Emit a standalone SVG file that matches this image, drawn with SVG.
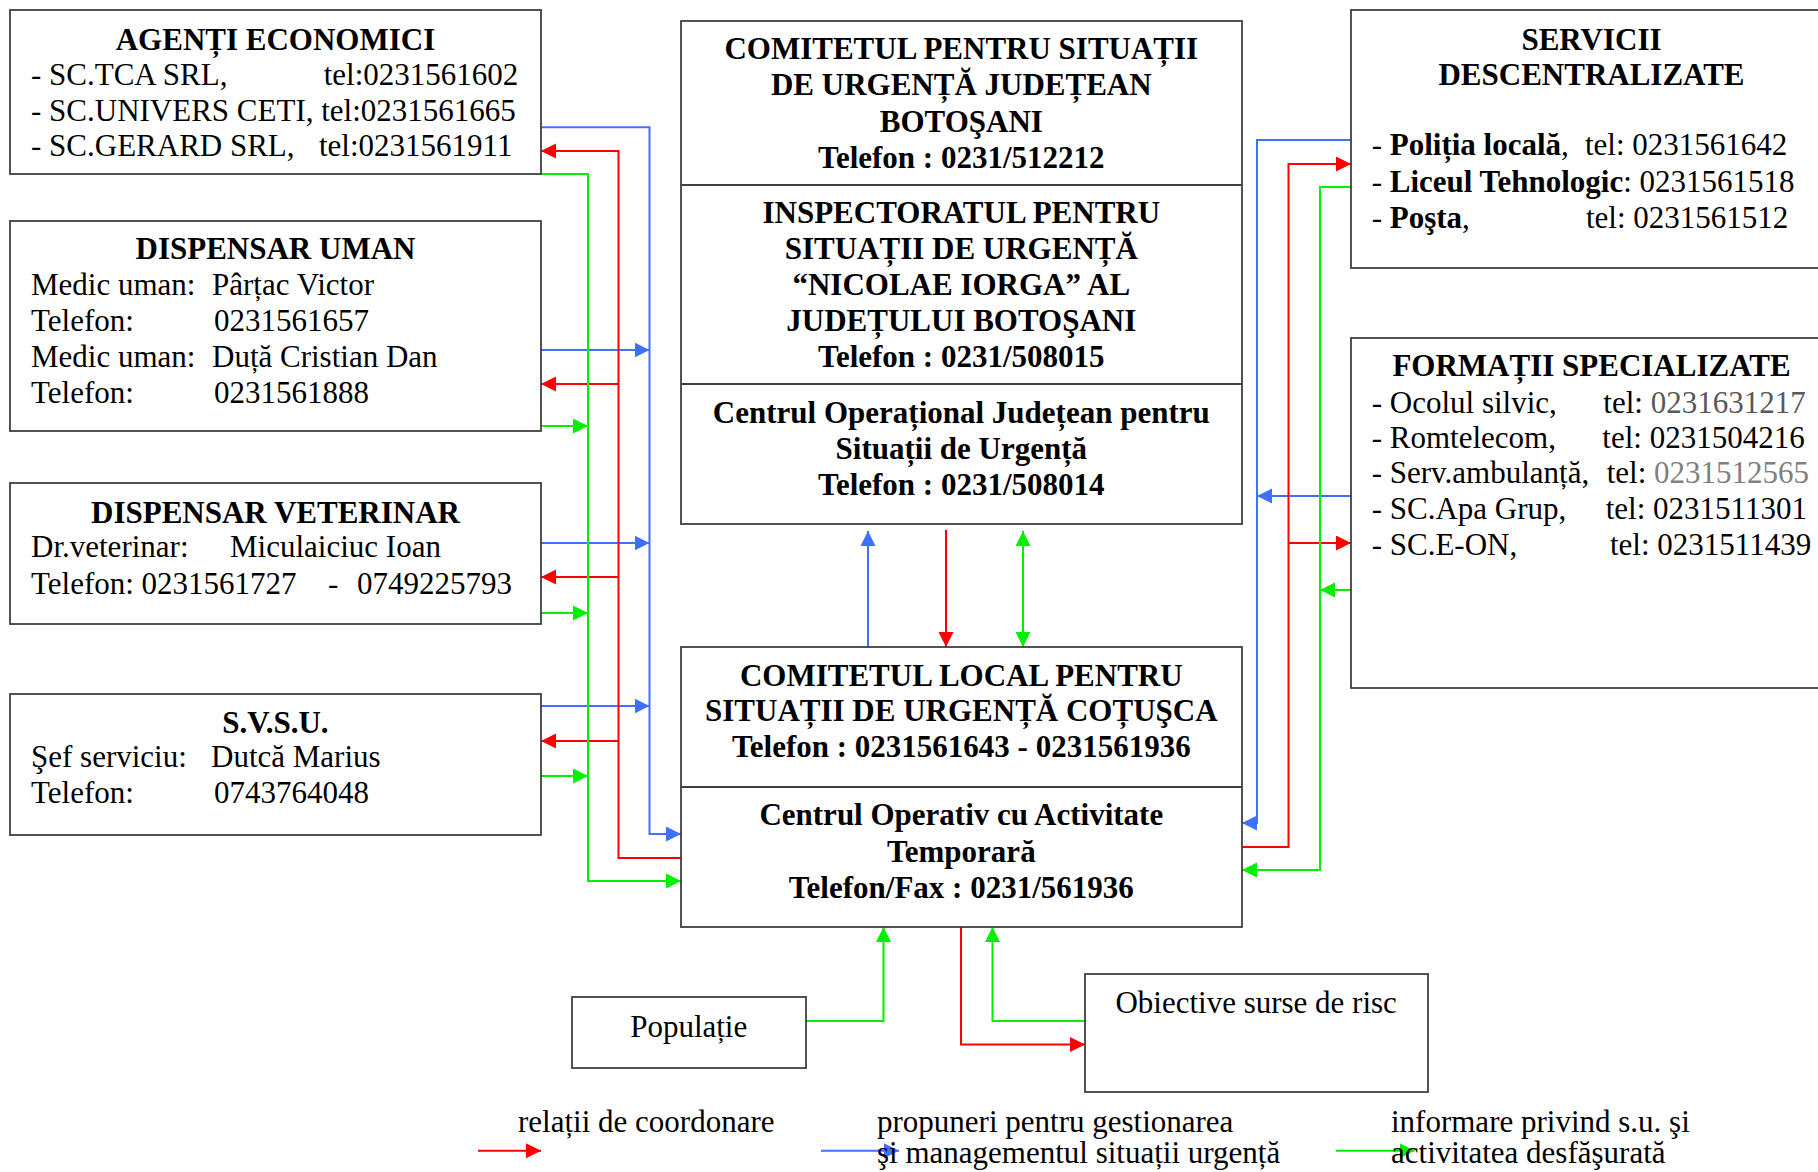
<svg xmlns="http://www.w3.org/2000/svg" width="1818" height="1172" viewBox="0 0 1818 1172">
<style>
text{font-family:"Liberation Serif","Times New Roman",serif;font-size:31px;fill:#000}
.b{font-weight:bold}
.m{text-anchor:middle}
.box{fill:#fff;stroke:#404040;stroke-width:1.8}
.div{stroke:#404040;stroke-width:1.8}
.cb{fill:none;stroke:#4070ff;stroke-width:2}
.cr{fill:none;stroke:#ff0000;stroke-width:2}
.cg{fill:none;stroke:#00f000;stroke-width:2}
.g1{fill:#595959}
.g2{fill:#808080}
</style>
<defs>
<marker id="ab" markerUnits="userSpaceOnUse" markerWidth="16" markerHeight="16" refX="15" refY="7.5" orient="auto-start-reverse"><path d="M0,0 L15,7.5 L0,15 z" fill="#4070ff"/></marker>
<marker id="ar" markerUnits="userSpaceOnUse" markerWidth="16" markerHeight="16" refX="15" refY="7.5" orient="auto-start-reverse"><path d="M0,0 L15,7.5 L0,15 z" fill="#ff0000"/></marker>
<marker id="ag" markerUnits="userSpaceOnUse" markerWidth="16" markerHeight="16" refX="15" refY="7.5" orient="auto-start-reverse"><path d="M0,0 L15,7.5 L0,15 z" fill="#00f000"/></marker>
</defs>
<rect width="1818" height="1172" fill="#fff"/>

<g id="connectors">
<!-- left side -->
<path class="cb" d="M541,127.3 H649.5 V834 H681" marker-end="url(#ab)"/>
<path class="cb" d="M541,350 H649.5" marker-end="url(#ab)"/>
<path class="cb" d="M541,543 H649.5" marker-end="url(#ab)"/>
<path class="cb" d="M541,706 H649.5" marker-end="url(#ab)"/>
<path class="cr" d="M681,858 H618.5 V151 H541" marker-end="url(#ar)"/>
<path class="cr" d="M618.5,384 H541" marker-end="url(#ar)"/>
<path class="cr" d="M618.5,577 H541" marker-end="url(#ar)"/>
<path class="cr" d="M618.5,741 H541" marker-end="url(#ar)"/>
<path class="cg" d="M541,174 H588 V881 H681" marker-end="url(#ag)"/>
<path class="cg" d="M541,426 H588" marker-end="url(#ag)"/>
<path class="cg" d="M541,613 H588" marker-end="url(#ag)"/>
<path class="cg" d="M541,776 H588" marker-end="url(#ag)"/>
<!-- right side -->
<path class="cb" d="M1351,140 H1257 V823 H1242" marker-end="url(#ab)"/>
<path class="cb" d="M1351,496 H1257" marker-end="url(#ab)"/>
<path class="cr" d="M1242,847 H1288.5 V164 H1351" marker-end="url(#ar)"/>
<path class="cr" d="M1288.5,543 H1351" marker-end="url(#ar)"/>
<path class="cg" d="M1351,187 H1320 V870 H1242" marker-end="url(#ag)"/>
<path class="cg" d="M1351,590 H1320" marker-end="url(#ag)"/>
<!-- central -->
<path class="cb" d="M868,647 V531" marker-end="url(#ab)"/>
<path class="cr" d="M946,530 V647" marker-end="url(#ar)"/>
<path class="cg" d="M1023,647 V531" marker-start="url(#ag)" marker-end="url(#ag)"/>
<!-- bottom -->
<path class="cg" d="M806,1021 H883.5 V927" marker-end="url(#ag)"/>
<path class="cr" d="M961,927 V1044.5 H1085" marker-end="url(#ar)"/>
<path class="cg" d="M1085,1021 H992.5 V927" marker-end="url(#ag)"/>
</g>

<g id="agenti">
<rect class="box" x="10" y="10" width="531" height="164"/>
<text class="b m" x="275.5" y="50">AGENȚI ECONOMICI</text>
<text x="31" y="85">- SC.TCA SRL,</text><text x="323.7" y="85">tel:0231561602</text>
<text x="31" y="120.7">- SC.UNIVERS CETI, tel:0231561665</text>
<text x="31" y="156">- SC.GERARD SRL,</text><text x="319" y="156">tel:0231561911</text>
</g>

<g id="dispensar-uman">
<rect class="box" x="10" y="221" width="531" height="210"/>
<text class="b m" x="275.5" y="259.3">DISPENSAR UMAN</text>
<text x="31" y="295">Medic uman:</text><text x="212" y="295">Pârțac Victor</text>
<text x="31" y="331">Telefon:</text><text x="214" y="331">0231561657</text>
<text x="31" y="366.7">Medic uman:</text><text x="212" y="366.7">Duță Cristian Dan</text>
<text x="31" y="402.7">Telefon:</text><text x="214" y="402.7">0231561888</text>
</g>

<g id="dispensar-veterinar">
<rect class="box" x="10" y="483" width="531" height="141"/>
<text class="b m" x="275.5" y="522.7">DISPENSAR VETERINAR</text>
<text x="31" y="557.3">Dr.veterinar:</text><text x="230" y="557.3">Miculaiciuc Ioan</text>
<text x="31" y="594.3">Telefon: 0231561727</text><text x="328" y="594.3">-</text><text x="357" y="594.3">0749225793</text>
</g>

<g id="svsu">
<rect class="box" x="10" y="694" width="531" height="141"/>
<text class="b m" x="275.5" y="733.3">S.V.S.U.</text>
<text x="31" y="766.7">Şef serviciu:</text><text x="211" y="766.7">Dutcă Marius</text>
<text x="31" y="803.3">Telefon:</text><text x="214" y="803.3">0743764048</text>
</g>

<g id="judetean">
<rect class="box" x="681" y="21" width="561" height="503"/>
<line class="div" x1="681" y1="185" x2="1242" y2="185"/>
<line class="div" x1="681" y1="384" x2="1242" y2="384"/>
<text class="b m" x="961.3" y="59.2">COMITETUL PENTRU SITUAȚII</text>
<text class="b m" x="961.3" y="95.4">DE URGENȚĂ JUDEȚEAN</text>
<text class="b m" x="961.3" y="131.5">BOTOŞANI</text>
<text class="b m" x="961.3" y="167.7">Telefon : 0231/512212</text>
<text class="b m" x="961.3" y="223">INSPECTORATUL PENTRU</text>
<text class="b m" x="961.3" y="259">SITUAȚII DE URGENȚĂ</text>
<text class="b m" x="961.3" y="295">“NICOLAE IORGA” AL</text>
<text class="b m" x="961.3" y="331">JUDEȚULUI BOTOŞANI</text>
<text class="b m" x="961.3" y="367.4">Telefon : 0231/508015</text>
<text class="b m" x="961.3" y="423">Centrul Operațional Județean pentru</text>
<text class="b m" x="961.3" y="459">Situații de Urgență</text>
<text class="b m" x="961.3" y="494.8">Telefon : 0231/508014</text>
</g>

<g id="local">
<rect class="box" x="681" y="647" width="561" height="280"/>
<line class="div" x1="681" y1="787" x2="1242" y2="787"/>
<text class="b m" x="961.3" y="685.7">COMITETUL LOCAL PENTRU</text>
<text class="b m" x="961.3" y="721">SITUAȚII DE URGENȚĂ COȚUŞCA</text>
<text class="b m" x="961.3" y="757.3">Telefon : 0231561643 - 0231561936</text>
<text class="b m" x="961.3" y="825">Centrul Operativ cu Activitate</text>
<text class="b m" x="961.3" y="861.7">Temporară</text>
<text class="b m" x="961.3" y="897.7">Telefon/Fax : 0231/561936</text>
</g>

<g id="servicii">
<rect class="box" x="1351" y="10" width="500" height="258"/>
<text class="b m" x="1591.5" y="50">SERVICII</text>
<text class="b m" x="1591.5" y="84.8">DESCENTRALIZATE</text>
<text x="1371.7" y="155">- <tspan class="b">Poliția locală</tspan>,</text><text x="1585" y="155">tel: 0231561642</text>
<text x="1371.7" y="191.7">- <tspan class="b">Liceul Tehnologic</tspan>: 0231561518</text>
<text x="1371.7" y="228.3">- <tspan class="b">Poşta</tspan>,</text><text x="1586" y="228.3">tel: 0231561512</text>
</g>

<g id="formatii">
<rect class="box" x="1351" y="338" width="500" height="350"/>
<text class="b m" x="1591.5" y="376">FORMAȚII SPECIALIZATE</text>
<text x="1371.7" y="412.7">- Ocolul silvic,</text><text x="1603.3" y="412.7">tel: <tspan class="g1">0231631217</tspan></text>
<text x="1371.7" y="448.3">- Romtelecom,</text><text x="1602.3" y="448.3">tel: 0231504216</text>
<text x="1371.7" y="483.3">- Serv.ambulanță,</text><text x="1606.7" y="483.3">tel: <tspan class="g2">0231512565</tspan></text>
<text x="1371.7" y="519.3">- SC.Apa Grup,</text><text x="1605.7" y="519.3">tel: 0231511301</text>
<text x="1371.7" y="555">- SC.E-ON,</text><text x="1610" y="555">tel: 0231511439</text>
</g>

<g id="populatie">
<rect class="box" x="572" y="997" width="234" height="71"/>
<text class="m" x="688.7" y="1036.7">Populație</text>
</g>

<g id="obiective">
<rect class="box" x="1085" y="974" width="343" height="118"/>
<text x="1115.4" y="1012.7">Obiective surse de risc</text>
</g>

<g id="legend">
<path class="cr" d="M478,1150.7 H541" marker-end="url(#ar)"/>
<path class="cb" d="M821,1150.7 H899" marker-end="url(#ab)"/>
<path class="cg" d="M1335.7,1150.7 H1414.5" marker-end="url(#ag)"/>
<text x="518" y="1131.5">relații de coordonare</text>
<text x="877" y="1131.5">propuneri pentru gestionarea</text>
<text x="877" y="1163">şi managementul situații urgență</text>
<text x="1391" y="1131.5">informare privind s.u. şi</text>
<text x="1391" y="1163">activitatea desfăşurată</text>
</g>
</svg>
